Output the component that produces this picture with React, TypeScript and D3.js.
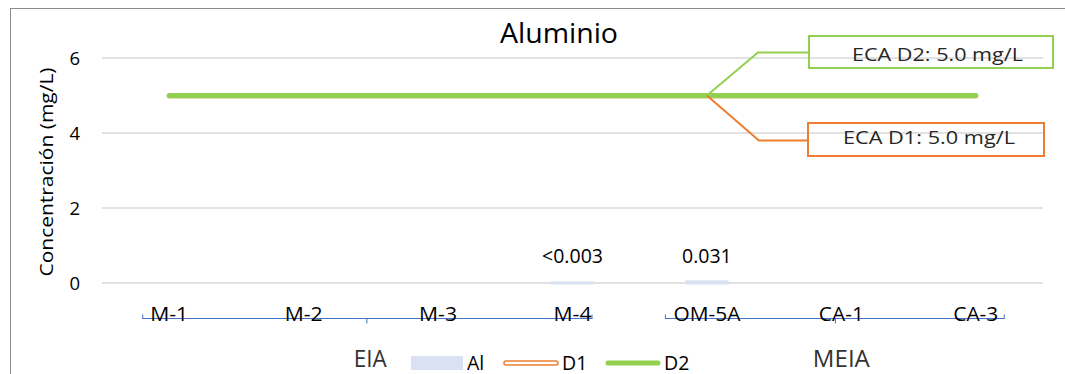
import React from "react";
import * as d3 from "d3";

const categories = ["M-1", "M-2", "M-3", "M-4", "OM-5A", "CA-1", "CA-3"];
const alValues: (number | null)[] = [null, null, null, 0.003, 0.031, null, null];
const alLabels: (string | null)[] = [null, null, null, "<0.003", "0.031", null, null];
const d1Values = [5, 5, 5, 5, 5, 5, 5];
const d2Values = [5, 5, 5, 5, 5, 5, 5];
const yTicks = [0, 2, 4, 6];
const groups = [
  { name: "EIA", items: ["M-1", "M-2", "M-3", "M-4"] },
  { name: "MEIA", items: ["OM-5A", "CA-1", "CA-3"] },
];
const callouts = [
  { text: "ECA D2: 5.0 mg/L", color: "#92d050" },
  { text: "ECA D1: 5.0 mg/L", color: "#ed7d31" },
];

const W = 1065;
const H = 374;
const FONT = "'Open Sans', sans-serif";
const ORANGE = "#ed7d31";
const GREEN = "#92d050";
const BAR = "#d9e1f2";
const AXIS = "#4472c4";

export default function App() {
  const x = d3.scaleBand<string>().domain(categories).range([102, 1043]).padding(0);
  const bw = x.bandwidth();
  const cx = (c: string) => (x(c) as number) + bw / 2;
  const y = d3.scaleLinear().domain([0, 6]).range([283, 58]);

  const line = d3
    .line<number>()
    .x((_, i) => cx(categories[i]))
    .y((d) => y(d));

  const barW = bw * 0.32;
  const anchorX = cx("OM-5A");
  const anchorY = y(5);

  const axisY = 318.5;
  const seg1 = { x0: cx("M-1") - 27, x1: cx("M-4") + 20, mid: (x("M-3") as number) - 4 };
  const seg2 = { x0: cx("OM-5A") - 42, x1: cx("CA-3") + 29, mid: cx("CA-1") - 6 };

  const groupCenter: Record<string, number> = {
    EIA: (x("M-3") as number) - 0.5,
    MEIA: cx("CA-1"),
  };
  const groupWidth: Record<string, number> = { EIA: 33, MEIA: 57 };
  const catWidth: Record<string, number> = {
    "M-1": 38, "M-2": 38, "M-3": 38, "M-4": 38, "OM-5A": 67, "CA-1": 45, "CA-3": 45,
  };

  return (
    <svg
      width={W}
      height={H}
      style={{ position: "absolute", left: 0, top: 0, background: "#fff" }}
      fontFamily={FONT}
    >
      <rect x={0} y={0} width={W} height={H} fill="#fff" />
      {/* frame */}
      <line x1={10.5} y1={8} x2={10.5} y2={H} stroke="#8c8c8c" strokeWidth={1} />
      <line x1={10} y1={8.5} x2={W} y2={8.5} stroke="#8c8c8c" strokeWidth={1} />

      {/* title */}
      <text x={559} y={43} textAnchor="middle" fontSize={27} fill="#000" textLength={118} lengthAdjust="spacingAndGlyphs">
        Aluminio
      </text>

      {/* gridlines */}
      {yTicks.map((t) => (
        <line key={t} x1={102} x2={1043} y1={y(t)} y2={y(t)} stroke="#d9d9d9" strokeWidth={1.5} />
      ))}
      {/* y tick labels */}
      {yTicks.map((t) => (
        <text key={t} x={80} y={y(t)} dy="0.36em" textAnchor="end" fontSize={18.5} fill="#000">
          {t}
        </text>
      ))}
      {/* y title */}
      <text
        transform={`translate(53,172) rotate(-90)`}
        textAnchor="middle"
        fontSize={19}
        fill="#000"
        textLength={209}
        lengthAdjust="spacingAndGlyphs"
      >
        Concentración (mg/L)
      </text>

      {/* bars */}
      {categories.map((c, i) => {
        const v = alValues[i];
        if (v == null) return null;
        const top = y(v);
        return (
          <rect
            key={c}
            x={cx(c) - barW / 2}
            y={top - 1.5}
            width={barW}
            height={y(0) - top + 3}
            fill={BAR}
          />
        );
      })}
      {categories.map((c, i) => {
        const l = alLabels[i];
        if (l == null) return null;
        return (
          <text key={c} x={cx(c)} y={263} textAnchor="middle" fontSize={19.5} fill="#000">
            {l}
          </text>
        );
      })}

      {/* lines */}
      <path d={line(d1Values) || ""} fill="none" stroke="#c8c060" strokeWidth={5} strokeLinecap="round" transform="translate(0,0.6)" />
      <path d={line(d2Values) || ""} fill="none" stroke={GREEN} strokeWidth={5} strokeLinecap="round" />

      {/* callouts */}
      <polyline
        points={`${anchorX},${anchorY} ${anchorX + 51},${anchorY - 43} ${anchorX + 102},${anchorY - 43}`}
        fill="none"
        stroke={GREEN}
        strokeWidth={2}
      />
      <rect x={809} y={36} width={244} height={32} fill="none" stroke={callouts[0].color} strokeWidth={2} />
      <text x={852} y={60.5} fontSize={19} fill="#262626" textLength={171} lengthAdjust="spacingAndGlyphs">
        {callouts[0].text}
      </text>
      <polyline
        points={`${anchorX},${anchorY} ${anchorX + 52},${anchorY + 45} ${anchorX + 101},${anchorY + 45}`}
        fill="none"
        stroke={ORANGE}
        strokeWidth={2}
      />
      <rect x={808} y={123} width={236} height={33} fill="none" stroke={callouts[1].color} strokeWidth={2} />
      <text x={843} y={144} fontSize={19} fill="#262626" textLength={172} lengthAdjust="spacingAndGlyphs">
        {callouts[1].text}
      </text>

      {/* category axis */}
      {[seg1, seg2].map((s, i) => (
        <g key={i} stroke={AXIS} strokeWidth={1} fill="none">
          <line x1={s.x0} x2={s.x1} y1={axisY} y2={axisY} />
          <line x1={s.x0 + 0.5} x2={s.x0 + 0.5} y1={axisY - 4} y2={axisY} />
          <line x1={s.x1 - 0.5} x2={s.x1 - 0.5} y1={axisY - 4} y2={axisY} />
          <line x1={s.mid} x2={s.mid} y1={axisY} y2={axisY + 5} />
        </g>
      ))}
      {categories.map((c) => (
        <text key={c} x={cx(c)} y={321} textAnchor="middle" fontSize={19.5} fill="#000" textLength={catWidth[c]} lengthAdjust="spacingAndGlyphs">
          {c}
        </text>
      ))}
      {groups.map((g) => (
        <text
          key={g.name}
          x={groupCenter[g.name]}
          y={367}
          textAnchor="middle"
          fontSize={23}
          fill="#333"
          textLength={groupWidth[g.name]}
          lengthAdjust="spacingAndGlyphs"
        >
          {g.name}
        </text>
      ))}

      {/* legend */}
      <rect x={411} y={356} width={52} height={14} fill={BAR} />
      <text x={467} y={369.5} fontSize={19.5} fill="#000">Al</text>
      <rect x={504} y={361} width={54} height={4} rx={2} fill="#fff" stroke={ORANGE} strokeWidth={1.5} />
      <text x={562} y={369.5} fontSize={19.5} fill="#000">D1</text>
      <line x1={608} x2={658} y1={363} y2={363} stroke={GREEN} strokeWidth={5} strokeLinecap="round" />
      <text x={664} y={369.5} fontSize={19.5} fill="#000">D2</text>
    </svg>
  );
}
